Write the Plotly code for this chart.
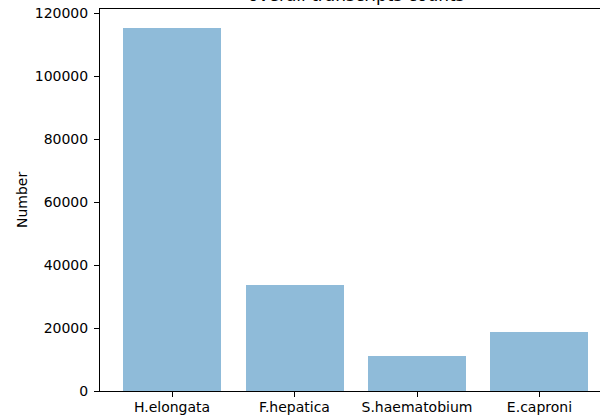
import plotly.graph_objects as go

categories = ["H.elongata", "F.hepatica", "S.haematobium", "E.caproni"]
counts = [115300, 33550, 11100, 18700]
y_ticks = [0, 20000, 40000, 60000, 80000, 100000, 120000]
title_text = "overall transcripts counts"
y_label = "Number"

fig = go.Figure(
    go.Bar(
        x=list(range(len(categories))),
        y=counts,
        width=0.8,
        marker=dict(color="#8fbbd9", line=dict(width=0)),
    )
)

font = dict(family="DejaVu Sans", size=14, color="black")

fig.update_layout(
    width=600,
    height=417,
    margin=dict(l=100, r=0, t=9, b=26),
    plot_bgcolor="white",
    paper_bgcolor="white",
    font=font,
    showlegend=False,
    bargap=0,
    xaxis=dict(
        range=[-0.588, 3.494],
        tickmode="array",
        tickvals=list(range(len(categories))),
        ticktext=categories,
        showline=True,
        linecolor="black",
        linewidth=1,
        mirror=True,
        ticks="outside",
        ticklen=5,
        tickcolor="black",
        showgrid=False,
        zeroline=False,
        automargin=False,
        ticklabelstandoff=-2,
    ),
    yaxis=dict(
        range=[0, 121300],
        tickmode="array",
        tickvals=y_ticks,
        ticktext=[str(v) for v in y_ticks],
        showline=True,
        linecolor="black",
        linewidth=1,
        ticks="outside",
        ticklen=5,
        tickcolor="black",
        showgrid=False,
        zeroline=False,
        automargin=False,
        ticklabelstandoff=3,
    ),
    annotations=[
        dict(
            text=title_text,
            xref="paper", yref="paper",
            x=0.512, y=1,
            xanchor="center", yanchor="bottom",
            yshift=2,
            showarrow=False,
            font=dict(family="DejaVu Sans", size=17, color="black"),
        ),
        dict(
            text=y_label,
            xref="paper", yref="paper",
            x=-0.156, y=0.5,
            xanchor="center", yanchor="middle",
            textangle=-90,
            showarrow=False,
            font=font,
        ),
    ],
)

fig.write_html(
    "out.html",
    config={"displayModeBar": False},
    post_script="document.body.style.margin='0';document.body.style.overflow='hidden';",
)
